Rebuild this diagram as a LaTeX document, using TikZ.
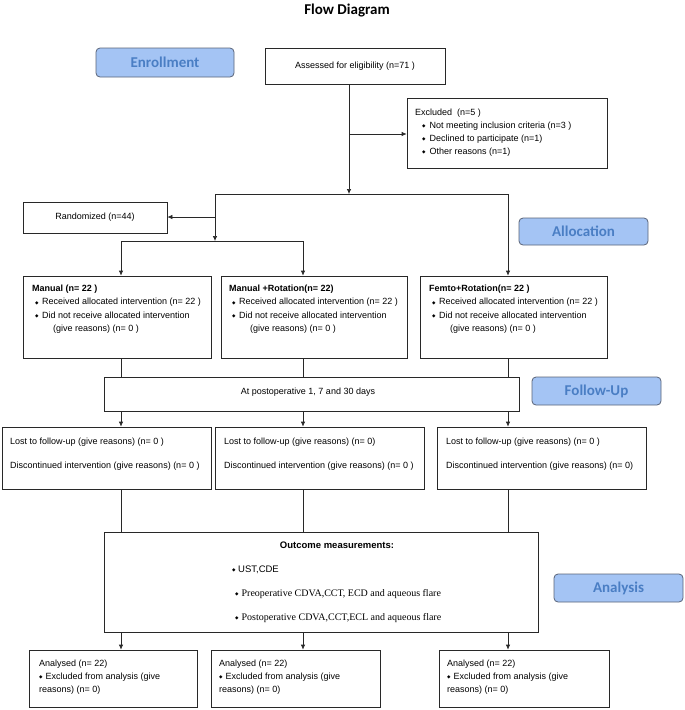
\documentclass[tikz,border=0pt]{standalone}
\usepackage{fontspec}
\setmainfont{Liberation Sans}
\newfontfamily\calfont{Carlito}
\newfontfamily\timesfont{Liberation Serif}
\newfontfamily\djvfont{DejaVu Sans}
\usetikzlibrary{arrows.meta}
\definecolor{lblfill}{RGB}{164,196,244}
\definecolor{lbltext}{RGB}{74,126,196}
\definecolor{lbldraw}{RGB}{90,100,120}
\definecolor{linec}{RGB}{40,40,40}
\newcommand{\bul}{{\djvfont\fontsize{4.5}{4.5}\selectfont\raisebox{0.8pt}{◆}}}
\begin{document}
\begin{tikzpicture}[x=1pt,y=-1pt,
  box/.style={draw=linec, line width=0.7pt, inner sep=0pt, fill=white},
  lbl/.style={draw=lbldraw, fill=lblfill, rounded corners=4pt, line width=0.8pt, text=lbltext, font=\calfont\bfseries\fontsize{15}{15}\selectfont, inner sep=0pt},
  txt/.style={font=\fontsize{9}{13}\selectfont, align=left, inner sep=0pt},
  conn/.style={draw=linec, line width=0.7pt},
  arr/.style={conn, -{Latex[length=5pt,width=4.5pt]}},
]
\useasboundingbox (0,0) rectangle (685,710);
\node[font=\calfont\bfseries\fontsize{15}{15}\selectfont, inner sep=0pt] (title) at (347,11) {Flow Diagram};

% stage labels
\node[lbl, minimum width=138pt, minimum height=29pt] (enroll) at (165,62.5) {Enrollment};
\node[lbl, minimum width=129pt, minimum height=27pt] (alloc) at (583.5,231.5) {Allocation};
\node[lbl, minimum width=129pt, minimum height=28pt] (fulbl) at (596.5,391) {Follow-Up};
\node[lbl, minimum width=129pt, minimum height=28pt] (anlbl) at (618.5,588) {Analysis};

% enrollment
\node[box, minimum width=180pt, minimum height=36pt, font=\fontsize{9}{11}\selectfont] (assess) at (355,66) {Assessed for eligibility (n=71 )};
\node[box, minimum width=200pt, minimum height=70pt] (excl) at (507,133) {};
\node[txt, anchor=north west] (exclt) at (415,108.7) {Excluded~ (n=5 )\\
\hspace*{7pt}\bul\hspace{4pt}Not meeting inclusion criteria (n=3 )\\
\hspace*{7pt}\bul\hspace{4pt}Declined to participate (n=1)\\
\hspace*{7pt}\bul\hspace{4pt}Other reasons (n=1)};
\node[box, minimum width=144pt, minimum height=31pt, font=\fontsize{9}{11}\selectfont] (rand) at (95,217.5) {Randomized (n=44)};

% allocation
\node[box, minimum width=188pt, minimum height=82pt] (man) at (117,317) {};
\node[box, minimum width=186pt, minimum height=82pt] (manrot) at (314,317) {};
\node[box, minimum width=187pt, minimum height=82pt] (femto) at (513.5,317) {};
\node[txt, font=\fontsize{9}{13.5}\selectfont, anchor=north west] (mant) at (32,284.7) {\textbf{Manual (n= 22 )}\\
\hspace*{3pt}\bul\hspace{3.5pt}Received allocated intervention (n= 22 )\\
\hspace*{3pt}\bul\hspace{3.5pt}Did not receive allocated intervention\\
\hspace*{21pt}(give reasons) (n= 0 )};
\node[txt, font=\fontsize{9}{13.5}\selectfont, anchor=north west] (manrott) at (229,284.7) {\textbf{Manual +Rotation(n= 22)}\\
\hspace*{3pt}\bul\hspace{3.5pt}Received allocated intervention (n= 22 )\\
\hspace*{3pt}\bul\hspace{3.5pt}Did not receive allocated intervention\\
\hspace*{21pt}(give reasons) (n= 0 )};
\node[txt, font=\fontsize{9}{13.5}\selectfont, anchor=north west] (femtot) at (429,284.7) {\textbf{Femto+Rotation(n= 22 )}\\
\hspace*{3pt}\bul\hspace{3.5pt}Received allocated intervention (n= 22 )\\
\hspace*{3pt}\bul\hspace{3.5pt}Did not receive allocated intervention\\
\hspace*{21pt}(give reasons) (n= 0 )};

% follow-up
\node[box, minimum width=415pt, minimum height=34pt] (fu) at (311.5,394) {};
\node[txt] (fut) at (308,392) {At postoperative 1, 7 and 30 days};
\node[box, minimum width=209pt, minimum height=62pt] (lost1) at (106.5,458) {};
\node[box, minimum width=209pt, minimum height=62pt] (lost2) at (319.5,458) {};
\node[box, minimum width=209pt, minimum height=62pt] (lost3) at (541.5,458) {};
\node[txt, anchor=north west] (lost1t) at (10,437.7) {Lost to follow-up (give reasons) (n= 0 )\\[11pt]Discontinued intervention (give reasons) (n= 0 )};
\node[txt, anchor=north west] (lost2t) at (224,437.7) {Lost to follow-up (give reasons) (n= 0)\\[11pt]Discontinued intervention (give reasons) (n= 0 )};
\node[txt, anchor=north west] (lost3t) at (446,437.7) {Lost to follow-up (give reasons) (n= 0 )\\[11pt]Discontinued intervention (give reasons) (n= 0)};

% outcome
\node[box, minimum width=434pt, minimum height=100pt] (out) at (321,582) {};
\node[inner sep=0pt, font=\bfseries\fontsize{9.5}{11}\selectfont] (outt) at (337,545.5) {Outcome measurements:};
\node[inner sep=0pt, anchor=west, font=\fontsize{9.5}{11}\selectfont] (o1) at (232,570) {\bul\hspace{2.5pt}UST,CDE};
\node[inner sep=0pt, anchor=west, font=\timesfont\fontsize{10}{12}\selectfont] (o2) at (235,594) {\bul\hspace{3pt}Preoperative CDVA,CCT, ECD and aqueous flare};
\node[inner sep=0pt, anchor=west, font=\timesfont\fontsize{10}{12}\selectfont] (o3) at (235,618) {\bul\hspace{3pt}Postoperative CDVA,CCT,ECL and aqueous flare};

% analysis
\node[box, minimum width=168pt, minimum height=57pt] (an1) at (113,678.5) {};
\node[box, minimum width=169pt, minimum height=57pt] (an2) at (295.5,678.5) {};
\node[box, minimum width=170pt, minimum height=57pt] (an3) at (524,678.5) {};
\node[txt, anchor=north west] (an1t) at (39,659.7) {Analysed (n= 22)\\ \bul\hspace{3pt}Excluded from analysis (give\\ reasons) (n= 0)};
\node[txt, anchor=north west] (an2t) at (219,659.7) {Analysed (n= 22)\\ \bul\hspace{3pt}Excluded from analysis (give\\ reasons) (n= 0)};
\node[txt, anchor=north west] (an3t) at (447,659.7) {Analysed (n= 22)\\ \bul\hspace{3pt}Excluded from analysis (give\\ reasons) (n= 0)};

% connectors
\coordinate (j1) at (349,194);
\coordinate (j1l) at (215,194);
\coordinate (j1r) at (508,194);
\coordinate (e1) at (349,134);
\coordinate (r1) at (215,217);
\coordinate (j2) at (215,241);
\coordinate (c1) at (121,241);
\coordinate (c2) at (303,241);
\draw[arr] (assess.south -| j1) -- (j1);
\draw[arr] (e1) -- (excl.west |- e1);
\draw[conn] (j1l) -- (j1r);
\draw[arr] (j1r) -- (femto.north -| j1r);
\draw[arr] (j1l) -- (j2);
\draw[arr] (r1) -- (rand.east |- r1);
\draw[conn] (c1) -- (c2);
\draw[arr] (c1) -- (man.north -| c1);
\draw[arr] (c2) -- (manrot.north -| c2);
\draw[conn] (man.south -| c1) -- (fu.north -| c1);
\draw[conn] (manrot.south -| c2) -- (fu.north -| c2);
\draw[conn] (femto.south -| j1r) -- (fu.north -| j1r);
\draw[arr] (fu.south -| c1) -- (lost1.north -| c1);
\draw[arr] (fu.south -| c2) -- (lost2.north -| c2);
\draw[arr] (fu.south -| j1r) -- (lost3.north -| j1r);
\draw[conn] (lost1.south -| c1) -- (out.north -| c1);
\draw[conn] (lost2.south -| c2) -- (out.north -| c2);
\draw[conn] (lost3.south -| j1r) -- (out.north -| j1r);
\draw[arr] (out.south -| c1) -- (an1.north -| c1);
\draw[arr] (out.south -| c2) -- (an2.north -| c2);
\draw[arr] (out.south -| j1r) -- (an3.north -| j1r);
\end{tikzpicture}
\end{document}
